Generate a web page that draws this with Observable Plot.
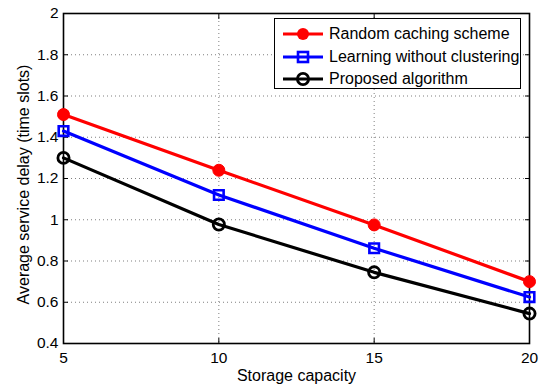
<!DOCTYPE html>
<html><head><meta charset="utf-8">
<script src="https://cdn.jsdelivr.net/npm/d3@7"></script>
<script src="https://cdn.jsdelivr.net/npm/@observablehq/plot@0.6"></script>
<style>
body{margin:0;background:#fff;}
#wrap{position:relative;width:547px;height:389px;font-family:"Liberation Sans",Arial,sans-serif;}
#legend{position:absolute;left:274px;top:18px;width:247px;height:71px;border:1px solid #000;background:#fff;box-sizing:border-box;}
.row{position:absolute;left:8px;height:22px;display:flex;align-items:center;white-space:nowrap;font-size:16px;color:#000;}
.row svg{margin-right:6px;}
</style>
</head><body>
<div id="wrap"><div id="chart"></div><div id="legend"></div></div>
<script>
const capacity = [5, 10, 15, 20];
const randomCaching = [1.51, 1.24, 0.975, 0.70];
const learningNoCluster = [1.43, 1.12, 0.862, 0.625];
const proposed = [1.30, 0.977, 0.745, 0.545];
const seriesNames = ["Random caching scheme", "Learning without clustering", "Proposed algorithm"];
const seriesColors = ["#ff0000", "#0000ff", "#000000"];
const xTicks = [5, 10, 15, 20];
const yTicks = [0.4, 0.6, 0.8, 1, 1.2, 1.4, 1.6, 1.8, 2];
const yTickLabels = ["0.4", "0.6", "0.8", "1", "1.2", "1.4", "1.6", "1.8", "2"];
const xLabel = "Storage capacity";
const yLabel = "Average service delay (time slots)";

const seriesValues = [randomCaching, learningNoCluster, proposed];
const rows = seriesValues.map((vals, s) => capacity.map((c, i) => ({x: c, y: vals[i], s})));

const font = "Liberation Sans, Arial, sans-serif";
const grid = {stroke: "#000", strokeOpacity: 0.5, strokeDasharray: "1,3", strokeWidth: 1};

const plot = Plot.plot({
  width: 547, height: 389,
  marginLeft: 63, marginRight: 18, marginTop: 13, marginBottom: 46,
  style: {fontFamily: font, background: "#fff", color: "#000"},
  x: {domain: [5, 20]},
  y: {domain: [0.4, 2]},
  marks: [
    Plot.gridX(xTicks, grid),
    Plot.gridY(yTicks, grid),
    Plot.axisX(xTicks, {anchor: "bottom", tickSize: 0, tickPadding: 8, fontSize: 15.5, label: null, tickFormat: d => String(d)}),
    Plot.axisY(yTicks, {anchor: "left", tickSize: 0, tickPadding: 5, fontSize: 15.5, label: null, tickFormat: (d, i) => yTickLabels[i]}),
    Plot.axisX(xTicks, {anchor: "bottom", tickSize: -5, tickFormat: () => "", label: null}),
    Plot.axisX(xTicks, {anchor: "top", tickSize: -5, tickFormat: () => "", label: null}),
    Plot.axisY(yTicks, {anchor: "left", tickSize: -5, tickFormat: () => "", label: null}),
    Plot.axisY(yTicks, {anchor: "right", tickSize: -5, tickFormat: () => "", label: null}),
    Plot.frame({stroke: "#000", strokeWidth: 1.6}),
    Plot.text([xLabel], {frameAnchor: "bottom", text: d => d, lineAnchor: "bottom", dy: 37, fontSize: 16}),
    Plot.text([yLabel], {frameAnchor: "left", text: d => d, rotate: -90, lineAnchor: "top", textAnchor: "middle", dx: -46, dy: 6, fontSize: 16}),
    ...rows.map((r, s) => Plot.line(r, {x: "x", y: "y", stroke: seriesColors[s], strokeWidth: 3.2})),
    Plot.dot(rows[0], {x: "x", y: "y", r: 6, fill: seriesColors[0], stroke: seriesColors[0], strokeWidth: 1}),
    Plot.dot(rows[1], {x: "x", y: "y", symbol: "square", r: 5.4, fill: "none", stroke: seriesColors[1], strokeWidth: 2.6}),
    Plot.dot(rows[2], {x: "x", y: "y", r: 5.6, fill: "none", stroke: seriesColors[2], strokeWidth: 2.8})
  ]
});
document.getElementById("chart").appendChild(plot);

const legend = document.getElementById("legend");
const markerSvg = [
  c => `<circle cx="20" cy="8" r="6" fill="${c}"/>`,
  c => `<rect x="15" y="3" width="10" height="10" fill="none" stroke="${c}" stroke-width="2.6"/>`,
  c => `<circle cx="20" cy="8" r="5.6" fill="none" stroke="${c}" stroke-width="2.8"/>`
];
seriesNames.forEach((name, i) => {
  const row = document.createElement("div");
  row.className = "row";
  row.style.top = (4 + i * 22.5) + "px";
  row.innerHTML = `<svg width="40" height="16"><line x1="0" y1="8" x2="40" y2="8" stroke="${seriesColors[i]}" stroke-width="3.2"/>${markerSvg[i](seriesColors[i])}</svg><span>${name}</span>`;
  legend.appendChild(row);
});
</script>
</body></html>
